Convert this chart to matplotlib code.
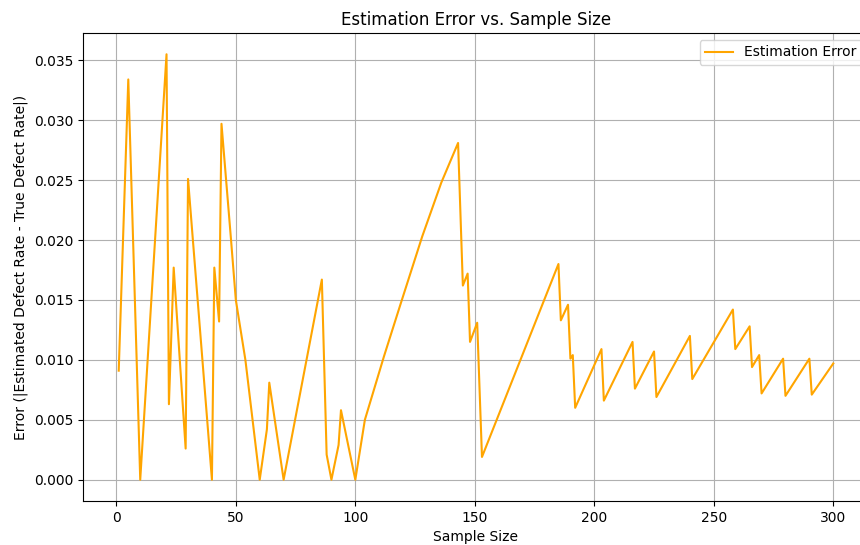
import matplotlib
matplotlib.use('Agg')
import matplotlib.pyplot as plt

# values (sample size, estimation error)
sample_size = [1, 5, 10, 21, 22, 24, 29, 30, 40, 41, 43, 44, 48, 50, 54, 60,
               63, 64, 70, 86, 88, 90, 93, 94, 100, 104, 112, 119, 128, 136,
               143, 145, 147, 148, 151,
               153, 185, 186, 189, 190, 191, 192, 203, 204, 216, 217, 225, 226,
               240, 241, 258, 259, 265, 266, 269, 270, 279, 280, 290, 291, 300]
error = [0.0091, 0.0334, 0.0, 0.0355, 0.0063, 0.0177, 0.0026, 0.0251, 0.0,
         0.0177, 0.0132, 0.0297, 0.0200, 0.0150, 0.0100, 0.0,
         0.0042, 0.0081, 0.0, 0.0167, 0.0021, 0.0, 0.0029, 0.0058, 0.0,
         0.0050, 0.0103, 0.0147, 0.0203, 0.0248,
         0.0281, 0.0162, 0.0172, 0.0115, 0.0131,
         0.0019, 0.0180, 0.0133, 0.0146, 0.0101, 0.0104, 0.0060, 0.0109,
         0.0066, 0.0115, 0.0076, 0.0107, 0.0069,
         0.0120, 0.0084, 0.0142, 0.0109, 0.0128, 0.0094, 0.0104, 0.0072,
         0.0101, 0.0070, 0.0101, 0.0071, 0.0097]

fig = plt.figure(figsize=(8.6, 5.45), dpi=100)
ax = fig.add_axes([83 / 860, 44 / 545, 786 / 860, 468 / 545])

ax.plot(sample_size, error, color='orange', label='Estimation Error')
ax.set_title('Estimation Error vs. Sample Size')
ax.set_xlabel('Sample Size')
ax.set_ylabel('Error (|Estimated Defect Rate - True Defect Rate|)')
ax.legend(loc='upper right')
ax.grid(True)

fig.savefig('out.png', dpi=100)
